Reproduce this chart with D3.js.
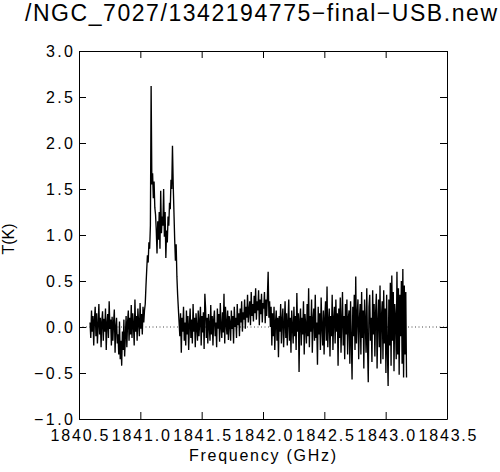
<!DOCTYPE html>
<html>
<head>
<meta charset="utf-8">
<script src="https://cdn.jsdelivr.net/npm/d3@7"></script>
<style>
    body { margin: 0; background: #ffffff; }
    svg { display: block; }
</style>
</head>
<body>
<div id="chart"></div>
<script>
const TITLE = '/NGC_7027/1342194775\u2212final\u2212USB.new';
const X_LABEL = 'Frequency (GHz)';
const Y_LABEL = 'T(K)';
const X_TICKS = [1840.5, 1841.0, 1841.5, 1842.0, 1842.5, 1843.0, 1843.5];
const Y_TICKS = [-1.0, -0.5, 0.0, 0.5, 1.0, 1.5, 2.0, 2.5, 3.0];

// channel grid of the spectrum
const FREQ_START = 1840.59;
const FREQ_STEP = 0.006;

// antenna temperature per channel
const tLeftBaseline = [
    0.05, -0.12, 0.18, -0.05, 0.12, -0.20, 0.08, 0.22, -0.10, 0.15,
    -0.18, 0.02, 0.25, -0.08, 0.10, -0.22, 0.06, 0.17, -0.15, 0.09,
    -0.05, 0.20, -0.25, 0.04, 0.14, -0.12, 0.28, -0.02, 0.08, -0.20,
    0.11, -0.15, 0.05, 0.19, -0.28, 0.00, 0.10, -0.18, -0.08, -0.30,
    0.06, -0.35, -0.15, -0.42, -0.05, -0.25, 0.08, -0.32, -0.10, 0.12,
    -0.22, 0.05, 0.18, -0.15, 0.10, -0.08, 0.24, -0.12, 0.15, 0.02,
    -0.20, 0.30, -0.05, 0.12, -0.15, 0.20, 0.04, -0.10, 0.26, -0.02,
    0.14, -0.08, 0.22, 0.05, 0.18
];
const tLineRise = [0.25, 0.45, 0.62, 0.78, 0.70, 0.92, 0.85, 1.10, 2.62, 1.55];
const tLineCore = [
    1.67, 1.40, 1.58, 1.30, 1.22, 1.05, 0.80, 1.15, 0.95, 1.25,
    0.85, 1.48, 1.02, 1.20, 1.10, 1.50, 0.98, 1.25, 0.75, 1.05,
    0.92, 1.20, 1.10, 1.35, 1.28, 1.60, 1.50, 1.97
];
const tLineFall = [1.55, 1.25, 0.95, 0.72, 0.90, 0.55, 0.35, 0.20, 0.05, -0.10];
const tMidBaseline = [
    0.15, -0.28, 0.10, -0.05, 0.22, -0.15, 0.05, -0.20, 0.18, -0.08,
    0.12, -0.25, 0.02, 0.20, -0.12, 0.08, -0.18, 0.25, -0.05, 0.10,
    -0.22, 0.15, 0.00, -0.15, 0.18, -0.10, 0.06, 0.22, -0.20, 0.12,
    -0.06, 0.16, -0.24, 0.36, 0.20, -0.12, 0.10, -0.18, 0.14, 0.02,
    -0.15, 0.24, -0.08, 0.12, -0.20, 0.08, 0.18, -0.10, 0.05, -0.22,
    0.20, -0.02, 0.14, -0.16, 0.26, 0.00, -0.12, 0.16, -0.06, 0.36,
    -0.18, 0.22, 0.04, -0.08, 0.18, -0.14, 0.12
];
const tBump = [
    0.05, -0.15, 0.18, -0.02, 0.12, -0.18, 0.22, 0.00, 0.10, -0.12,
    0.25, 0.02, 0.15, -0.10, 0.20, 0.05, 0.28, -0.05, 0.16, 0.08,
    0.30, -0.02, 0.22, 0.10, 0.35, 0.05, 0.18, 0.28, 0.02, 0.38,
    0.12, 0.25, 0.06, 0.34, 0.15, 0.42, 0.08, 0.28, 0.18, 0.40,
    0.02, 0.30, 0.14, 0.36, 0.05, 0.26, 0.20, 0.38, 0.04, 0.30,
    0.12, 0.34, 0.60, 0.10, 0.28, 0.00, 0.22
];
const tRightBaseline = [
    -0.20, 0.15, -0.10, 0.22, -0.25, 0.05, 0.18, -0.15, 0.10, -0.33,
    0.12, -0.05, 0.25, -0.18, 0.08, 0.20, -0.22, 0.02, 0.28, -0.12,
    0.15, -0.20, 0.06, 0.30, -0.15, 0.10, -0.28, 0.18, 0.00, -0.18,
    0.22, -0.10, 0.12, -0.25, 0.37, -0.05, 0.15, -0.49, 0.08, 0.20,
    -0.20, 0.10, -0.08, 0.28, -0.30, 0.14, 0.02, -0.18, 0.25, -0.10,
    0.42, -0.22, 0.12, -0.05, 0.30, -0.28, 0.08, 0.20, -0.15, 0.35,
    -0.12, 0.05, -0.41, 0.22, -0.08, 0.15, -0.25, 0.32, 0.00, -0.20,
    0.18, -0.30, 0.10, 0.28, -0.15, 0.44, -0.22, 0.05, 0.20, -0.32,
    0.12, -0.10, 0.35, -0.25, 0.08, 0.22, -0.18, 0.30, -0.05, 0.15,
    -0.42, 0.20, -0.12, 0.32, -0.28, 0.06, 0.38, -0.20, 0.12, -0.35,
    0.25, -0.08, 0.30, -0.30, 0.10, 0.18, -0.40, 0.28, -0.15, -0.57,
    0.22, -0.10, 0.35, -0.25, 0.55, -0.18, 0.12, 0.30, -0.35, 0.08,
    0.25, -0.30, 0.38, -0.12, 0.18, -0.45, 0.30, 0.05, -0.28, 0.42,
    -0.20, -0.60, 0.22, 0.35, -0.15, 0.10, -0.38, 0.40, -0.08, 0.25,
    -0.32, 0.15, 0.36, -0.45, 0.05, 0.30, -0.22, 0.45, -0.40, 0.12,
    0.28, -0.35, 0.40, -0.18, 0.20, -0.50, 0.35, -0.25, -0.64, 0.30,
    -0.20, 0.48, -0.42, 0.56, -0.15, 0.38, -0.48, 0.25, 0.10, -0.35,
    0.60, -0.30, 0.42, -0.52, 0.35, -0.10, 0.50, -0.40, 0.63, -0.55,
    0.45, -0.30, 0.38, -0.55
];

const T_VALUES = [].concat(tLeftBaseline, tLineRise, tLineCore, tLineFall,
    tMidBaseline, tBump, tRightBaseline);

const width = 500;
const height = 472;
const plot = { left: 79, right: 447, top: 51, bottom: 419 };
const FONT = '"Liberation Sans", Arial, Helvetica, sans-serif';
const TICK_LEN = 7;

const x = d3.scaleLinear().domain([1840.5, 1843.5]).range([plot.left, plot.right]);
const y = d3.scaleLinear().domain([-1, 3]).range([plot.bottom, plot.top]);
const fmt = d3.format('.1f');

const svg = d3.select('#chart').append('svg')
    .attr('width', width)
    .attr('height', height);

svg.append('rect').attr('width', width).attr('height', height).attr('fill', '#fff');

// dotted zero line
svg.append('line')
    .attr('x1', plot.left).attr('x2', plot.right)
    .attr('y1', y(0)).attr('y2', y(0))
    .attr('stroke', '#444')
    .attr('stroke-width', 1)
    .attr('stroke-dasharray', '1 2.5');

// spectrum
const line = d3.line()
    .x((d, i) => x(FREQ_START + i * FREQ_STEP))
    .y((d) => y(d));

svg.append('path')
    .datum(T_VALUES)
    .attr('d', line)
    .attr('fill', 'none')
    .attr('stroke', '#000')
    .attr('stroke-width', 1.35)
    .attr('stroke-linejoin', 'bevel');

// axes, ticks pointing inward on all four sides
const axisStyle = (g) => {
    g.attr('font-family', FONT);
    g.selectAll('path.domain, .tick line').attr('stroke', '#000').attr('stroke-width', 1);
};

const bottom = svg.append('g')
    .attr('transform', `translate(0,${plot.bottom})`)
    .call(d3.axisBottom(x).tickValues(X_TICKS).tickSizeInner(-TICK_LEN).tickSizeOuter(0).tickFormat(fmt))
    .call(axisStyle);
bottom.selectAll('text')
    .attr('y', 10.5)
    .attr('dy', '0.71em')
    .attr('font-size', 16)
    .attr('fill', '#000')
    .attr('textLength', 58)
    .attr('lengthAdjust', 'spacing');

svg.append('g')
    .attr('transform', `translate(0,${plot.top})`)
    .call(d3.axisTop(x).tickValues(X_TICKS).tickSizeInner(-TICK_LEN).tickSizeOuter(0).tickFormat(''))
    .call(axisStyle);

const left = svg.append('g')
    .attr('transform', `translate(${plot.left},0)`)
    .call(d3.axisLeft(y).tickValues(Y_TICKS).tickSizeInner(-TICK_LEN).tickSizeOuter(0).tickFormat(fmt))
    .call(axisStyle);
left.selectAll('text')
    .attr('x', -6)
    .attr('dy', '0.36em')
    .attr('font-size', 16)
    .attr('fill', '#000')
    .attr('textLength', (d) => (d < 0 ? 39 : 27))
    .attr('lengthAdjust', 'spacing');

svg.append('g')
    .attr('transform', `translate(${plot.right},0)`)
    .call(d3.axisRight(y).tickValues(Y_TICKS).tickSizeInner(-TICK_LEN).tickSizeOuter(0).tickFormat(''))
    .call(axisStyle);

// title and axis titles
svg.append('text')
    .attr('x', 25)
    .attr('y', 21)
    .attr('font-family', FONT)
    .attr('font-size', 23)
    .attr('textLength', 472)
    .attr('lengthAdjust', 'spacing')
    .attr('fill', '#000')
    .text(TITLE);

svg.append('text')
    .attr('x', 262.5)
    .attr('y', 461)
    .attr('text-anchor', 'middle')
    .attr('font-family', FONT)
    .attr('font-size', 16)
    .attr('textLength', 147)
    .attr('lengthAdjust', 'spacing')
    .attr('fill', '#000')
    .text(X_LABEL);

svg.append('text')
    .attr('transform', 'translate(14,239) rotate(-90)')
    .attr('text-anchor', 'middle')
    .attr('font-family', FONT)
    .attr('font-size', 16)
    .attr('fill', '#000')
    .text(Y_LABEL);
</script>
</body>
</html>
